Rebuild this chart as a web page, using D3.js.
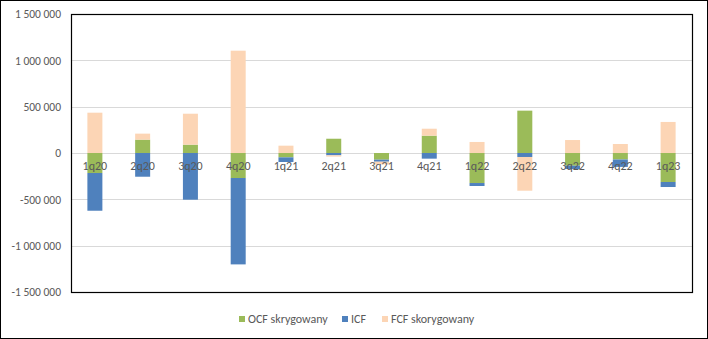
<!DOCTYPE html>
<html>
<head>
<meta charset="utf-8">
<script src="https://cdn.jsdelivr.net/npm/d3@7"></script>
<style>
  html, body { margin: 0; padding: 0; background: #fff; }
  svg text { font-family: Carlito, Calibri, "Open Sans", sans-serif; fill: #595959; }
</style>
</head>
<body>
<script>
const quarters = ["1q20","2q20","3q20","4q20","1q21","2q21","3q21","4q21","1q22","2q22","3q22","4q22","1q23"];
const ocf = [-216000, 144000, 90000, -270000, -47000, 154000, -72000, 187000, -324000, 457000, -137000, -70000, -313000];
const icf = [-407000, -256000, -504000, -932000, -50000, -25000, -22000, -61000, -32000, -43000, -36000, -80000, -54000];
const fcf = [435000, 65000, 334000, 1104000, 79000, -14000, -29000, 75000, 119000, -364000, 140000, 97000, 335000];
const seriesNames = ["OCF skrygowany", "ICF", "FCF skorygowany"];
const yTicks = [-1500000, -1000000, -500000, 0, 500000, 1000000, 1500000];

const width = 708, height = 339;
const colors = ["#9bbb59", "#4f81bd", "#fcd5b5"];
const keys = ["ocf", "icf", "fcf"];

let table = quarters.map((q, i) => ({ q: q, ocf: ocf[i], icf: icf[i], fcf: fcf[i] }));

let svg = d3.select("body").append("svg")
  .attr("width", width)
  .attr("height", height);

// outer chart border
svg.append("rect")
  .attr("x", 0.5).attr("y", 0.5)
  .attr("width", width - 1).attr("height", height - 1)
  .attr("fill", "#fff").attr("stroke", "#000");

const plotLeft = 71, plotRight = 692, plotTop = 14, plotBottom = 292;

let x = d3.scaleBand()
  .domain(quarters)
  .range([plotLeft, plotRight])
  .paddingInner(0.686)
  .paddingOuter(0.343);

let y = d3.scaleLinear()
  .domain([-1500000, 1500000])
  .range([plotBottom, plotTop]);

let locale = d3.formatLocale({ decimal: ",", thousands: " ", grouping: [3], currency: ["", ""], minus: "-" });
let fmt = locale.format(",d");

// gridlines
svg.append("g")
  .selectAll("line")
  .data(yTicks.slice(1, -1))
  .enter()
  .append("line")
    .attr("x1", plotLeft).attr("x2", plotRight)
    .attr("y1", d => Math.round(y(d)) + 0.5)
    .attr("y2", d => Math.round(y(d)) + 0.5)
    .attr("stroke", "#d9d9d9");

let yAxis = d3.axisLeft(y)
  .tickValues(yTicks)
  .tickFormat(fmt)
  .tickSize(0)
  .tickPadding(10);

svg.append("g")
  .attr("transform", `translate(${plotLeft},0)`)
  .call(yAxis)
  .call(g => g.select(".domain").remove())
  .selectAll("text")
    .style("font-size", "11.5px")
    .attr("fill", "#595959");

let stacked = d3.stack()
  .keys(keys)
  .offset(d3.stackOffsetDiverging)(table);

svg.append("g")
  .selectAll("g")
  .data(stacked)
  .enter()
  .append("g")
    .attr("fill", (d, i) => colors[i])
  .selectAll("rect")
  .data(d => d)
  .enter()
  .append("rect")
    .attr("x", d => x(d.data.q))
    .attr("width", x.bandwidth())
    .attr("y", d => y(Math.max(d[0], d[1])))
    .attr("height", d => Math.abs(y(d[0]) - y(d[1])));

// category labels sit just under the zero line, over the bars
let xAxis = d3.axisBottom(x)
  .tickSize(0)
  .tickPadding(8);

svg.append("g")
  .attr("transform", `translate(0,${y(0)})`)
  .call(xAxis)
  .call(g => g.select(".domain").remove())
  .selectAll("text")
    .style("font-size", "12px")
    .attr("fill", "#595959");

// plot area border
svg.append("rect")
  .attr("x", plotLeft + 0.5).attr("y", plotTop + 0.5)
  .attr("width", plotRight - plotLeft).attr("height", plotBottom - plotTop)
  .attr("fill", "none").attr("stroke", "#000").attr("stroke-width", 1.2);

// legend
let legend = svg.append("g").attr("id", "legend");
let legendX = [239, 342, 382];
seriesNames.forEach((name, i) => {
  let g = legend.append("g").attr("transform", `translate(${legendX[i]},316)`);
  g.append("rect").attr("width", 6).attr("height", 6).attr("fill", colors[i]);
  g.append("text")
    .attr("x", 9).attr("y", 3)
    .attr("dy", "0.35em")
    .style("font-size", "12px")
    .text(name);
});
</script>
</body>
</html>
